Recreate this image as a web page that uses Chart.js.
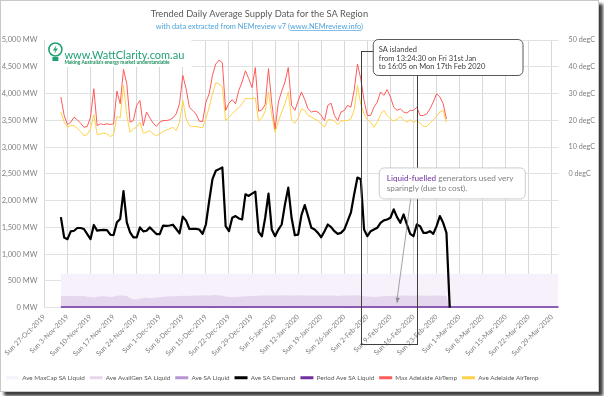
<!DOCTYPE html>
<html>
<head>
<meta charset="utf-8">
<script src="https://cdn.jsdelivr.net/npm/chart.js@4.4.1/dist/chart.umd.min.js"></script>
<style>
  html, body { margin: 0; padding: 0; background: #fff; }
  #frame {
    position: absolute; left: 0; top: 0;
    width: 597px; height: 390px;
    border: 1px solid #c9c9c9;
    box-shadow: 4px 4px 3px #3c3c3c;
    background: #fff;
  }
  canvas { display: block; }
</style>
</head>
<body>
<div id="frame"><canvas id="supplyChart" width="597" height="390"></canvas></div>
<script>
// x axis: one category per day, Sun 27-Oct-2019 .. Wed 1-Apr-2020
const startDate = new Date(2019, 9, 27);
const dayCount = 157;
const firstDataDay = 5; // data starts Fri 1-Nov-2019

const dayNames = ['Sun', 'Mon', 'Tue', 'Wed', 'Thu', 'Fri', 'Sat'];
const monthNames = ['Jan', 'Feb', 'Mar', 'Apr', 'May', 'Jun', 'Jul', 'Aug', 'Sep', 'Oct', 'Nov', 'Dec'];

const categories = Array.from({ length: dayCount }, (_, i) => {
  const d = new Date(startDate.getFullYear(), startDate.getMonth(), startDate.getDate() + i);
  return `${dayNames[d.getDay()]} ${d.getDate()}-${monthNames[d.getMonth()]}-${d.getFullYear()}`;
});

// daily values from 1-Nov-2019 (MW)
const demand = [
  1692, 1312, 1280, 1425, 1437, 1489, 1489, 1470, 1376, 1282,
  1545, 1440, 1450, 1452, 1448, 1363, 1357, 1594, 1658, 2177,
  1594, 1407, 1313, 1313, 1500, 1426, 1438, 1500, 1438, 1376,
  1376, 1532, 1530, 1535, 1550, 1470, 1388, 1702, 1626, 1470,
  1473, 1473, 1460, 1378, 1554, 1993, 2400, 2557, 2588, 2620,
  1523, 1429, 1680, 1711, 1667, 1648, 2118, 2087, 2131, 2168,
  1416, 1335, 1680, 2131, 1460, 1335, 1460, 1554, 1930, 2243,
  1680, 1354, 1366, 1730, 1918, 1711, 1492, 1460, 1398, 1316,
  1429, 1554, 1504, 1429, 1379, 1398, 1460, 1617, 1774, 2118,
  2431, 2400, 1460, 1335, 1429, 1460, 1492, 1586, 1630, 1648,
  1680, 1837, 1692, 1586, 1742, 1554, 1379, 1335, 1554, 1523,
  1398, 1398, 1429, 1379, 1523, 1711, 1586, 1398, 0,
];

const availGenLiquid = [
  215, 218, 220, 214, 212, 218, 222, 220, 205, 198,
  190, 205, 212, 215, 210, 198, 205, 225, 230, 228,
  220, 175, 160, 155, 165, 180, 185, 178, 182, 190,
  195, 205, 210, 215, 208, 212, 220, 225, 222, 218,
  225, 228, 230, 232, 228, 230, 232, 235, 230, 228,
  205, 200, 198, 200, 205, 210, 215, 212, 218, 220,
  225, 228, 226, 230, 232, 228, 226, 230, 232, 228,
  230, 226, 228, 232, 230, 226, 224, 228, 230, 226,
  224, 228, 226, 222, 220, 224, 226, 228, 230, 232,
  228, 226, 215, 210, 205, 200, 205, 210, 215, 218,
  220, 222, 225, 228, 226, 224, 222, 225, 228, 226,
  224, 222, 225, 228, 226, 224, 222, 220, 0,
];

const saLiquid = [
  6, 4, 3, 3, 4, 2, 3, 4, 5, 3,
  8, 4, 3, 2, 3, 4, 3, 9, 7, 14,
  10, 3, 3, 4, 5, 3, 4, 3, 2, 3,
  3, 4, 3, 5, 4, 3, 3, 12, 8, 5,
  4, 3, 3, 3, 7, 10, 14, 15, 13, 5,
  6, 7, 8, 10, 12, 11, 9, 13, 4, 3,
  6, 12, 5, 3, 5, 8, 12, 14, 7, 3,
  4, 8, 10, 6, 5, 4, 3, 3, 3, 5,
  5, 3, 3, 3, 4, 6, 8, 13, 15, 14,
  6, 3, 4, 5, 5, 6, 7, 8, 9, 11,
  7, 6, 8, 5, 3, 3, 5, 5, 4, 3,
  3, 5, 8, 6, 3, 3, 4, 3, 0,
];

// flat over the whole period, 1-Nov-2019 .. 1-Apr-2020
const maxCapLiquid = [632, 632];
const periodAveLiquid = [11, 11];

// daily air temperatures from 1-Nov-2019 (degC)
const maxAirTemp = [
  28.7, 21.8, 18.4, 19.3, 21.2, 20.2, 18.9, 17.4, 17.7, 21.2,
  31.8, 18.0, 18.7, 18.4, 18.7, 18.4, 18.7, 30.9, 26.2, 39.0,
  33.7, 19.3, 19.9, 25.6, 27.4, 18.0, 23.1, 20.9, 18.9, 17.7,
  19.3, 19.9, 19.9, 20.2, 20.9, 22.4, 26.2, 36.8, 31.8, 24.9,
  23.7, 22.4, 19.7, 19.5, 26.8, 29.9, 36.8, 41.0, 42.5, 41.5,
  23.7, 26.4, 27.7, 26.2, 31.2, 34.3, 38.5, 35.6, 32.2, 39.7,
  23.4, 23.9, 25.9, 39.3, 26.4, 16.8, 26.8, 30.9, 34.3, 39.7,
  25.6, 23.7, 27.2, 30.6, 27.7, 24.3, 23.1, 23.4, 23.1, 21.8,
  19.9, 25.6, 26.4, 21.8, 19.9, 23.1, 23.7, 25.6, 24.9, 31.2,
  41.0, 35.5, 27.4, 21.8, 21.8, 24.9, 26.8, 30.6, 29.3, 31.5,
  28.7, 24.9, 23.7, 24.3, 23.1, 22.7, 23.7, 23.7, 24.9, 21.8,
  21.8, 22.4, 24.3, 26.8, 29.9, 28.7, 26.2, 20.5,
];

const aveAirTemp = [
  23.1, 19.3, 17.4, 18.0, 18.0, 17.0, 15.8, 14.2, 14.7, 16.8,
  22.2, 14.7, 14.9, 15.2, 14.9, 13.9, 14.7, 21.4, 20.9, 33.1,
  21.8, 15.5, 16.8, 17.4, 19.3, 15.2, 15.5, 16.2, 14.9, 14.2,
  14.9, 15.8, 16.4, 16.8, 17.4, 16.2, 19.3, 27.4, 20.5, 18.0,
  17.7, 17.7, 17.4, 17.2, 20.5, 24.9, 29.9, 34.0, 33.5, 32.5,
  19.9, 21.2, 22.4, 23.7, 24.7, 26.2, 28.1, 28.1, 28.1, 28.4,
  19.7, 20.9, 23.4, 30.6, 21.8, 15.5, 19.7, 23.1, 26.2, 30.6,
  20.2, 18.9, 20.9, 24.3, 23.7, 21.8, 21.2, 20.5, 19.9, 18.7,
  17.4, 20.2, 20.2, 19.7, 18.4, 19.7, 19.9, 19.9, 20.5, 24.0,
  33.0, 26.0, 22.4, 20.2, 19.3, 17.4, 19.3, 22.2, 23.7, 21.8,
  20.5, 19.7, 20.5, 21.4, 20.2, 19.3, 20.2, 19.3, 19.9, 18.9,
  17.7, 17.7, 18.9, 20.2, 21.4, 23.1, 23.7, 19.3,
];

const islandFrom = 'Fri 31-Jan-2020';
const islandTo = 'Mon 17-Feb-2020';
const arrowDay = 'Tue 11-Feb-2020';

const alignToDays = values => categories.map((_, i) => {
  const v = values[i - firstDataDay];
  return v === undefined ? null : v;
});
const wholePeriod = [categories[firstDataDay], categories[dayCount - 1]];
const flatSeries = values => wholePeriod.map((x, i) => ({ x, y: values[i] }));

const fontFamily = 'Lato, "Open Sans", sans-serif';
Chart.defaults.font.family = fontFamily;
Chart.defaults.color = '#7f7f7f';

const overlays = {
  id: 'overlays',
  afterDatasetsDraw(chart) {
    const { ctx, chartArea, scales } = chart;
    const x1 = scales.x.getPixelForValue(categories.indexOf(islandFrom));
    const x2 = scales.x.getPixelForValue(categories.indexOf(islandTo));
    const top = scales.y.getPixelForValue(4790);
    const bottom = chartArea.bottom + 37;
    ctx.save();
    ctx.strokeStyle = '#3f3f3f';
    ctx.lineWidth = 1;
    ctx.strokeRect(Math.round(x1) + 0.5, Math.round(top) + 0.5, Math.round(x2 - x1), Math.round(bottom - top));
    ctx.restore();
  },
  afterDraw(chart) {
    const { ctx, chartArea, scales } = chart;
    const x1 = scales.x.getPixelForValue(categories.indexOf(islandFrom));

    // title
    ctx.save();
    const titleX = chartArea.left + 215;
    ctx.textAlign = 'center';
    ctx.textBaseline = 'alphabetic';
    ctx.fillStyle = '#595959';
    ctx.font = `9.3px ${fontFamily}`;
    ctx.fillText('Trended Daily Average Supply Data for the SA Region', titleX, 16);
    const sub = 'with data extracted from NEMreview v7 ';
    const link = '(www.NEMreview.info)';
    ctx.font = `7.4px ${fontFamily}`;
    ctx.fillStyle = '#4ea4dc';
    const wSub = ctx.measureText(sub).width;
    const wLink = ctx.measureText(link).width;
    const subLeft = titleX - (wSub + wLink) / 2;
    ctx.textAlign = 'left';
    ctx.fillText(sub + link, subLeft, 28);
    const wParen = ctx.measureText('(').width;
    ctx.strokeStyle = '#4ea4dc';
    ctx.lineWidth = 0.7;
    ctx.beginPath();
    ctx.moveTo(subLeft + wSub + wParen, 29.5);
    ctx.lineTo(subLeft + wSub + wLink - wParen, 29.5);
    ctx.stroke();
    ctx.restore();

    // logo
    ctx.save();
    const lx = chartArea.left + 1;
    const ly = chartArea.top;
    ctx.fillStyle = '#fff';
    ctx.fillRect(lx, ly, 146, 27);
    ctx.strokeStyle = '#22a273';
    ctx.fillStyle = '#22a273';
    ctx.lineWidth = 1.6;
    ctx.beginPath();
    ctx.arc(lx + 10, ly + 9.5, 6.5, 0, Math.PI * 2);
    ctx.stroke();
    ctx.fillRect(lx + 7, ly + 17, 6, 4);
    ctx.beginPath();
    ctx.moveTo(lx + 11, ly + 5);
    ctx.lineTo(lx + 7.5, ly + 10.5);
    ctx.lineTo(lx + 10, ly + 10.5);
    ctx.lineTo(lx + 9, ly + 14);
    ctx.lineTo(lx + 12.5, ly + 8.5);
    ctx.lineTo(lx + 10, ly + 8.5);
    ctx.closePath();
    ctx.fill();
    ctx.font = `11px ${fontFamily}`;
    ctx.textAlign = 'left';
    ctx.fillText('www.WattClarity.com.au', lx + 19, ly + 15);
    ctx.font = `bold 4.8px ${fontFamily}`;
    ctx.fillStyle = '#1d8f5f';
    ctx.fillText("Making Australia's energy market understandable", lx + 19, ly + 22);
    ctx.restore();

    // islanding note
    ctx.save();
    const bx = x1 + 12;
    const by = chartArea.top - 1;
    const bw = chartArea.right - 36 - bx;
    const bh = 36;
    ctx.beginPath();
    ctx.roundRect(bx + 0.5, by + 0.5, bw, bh, 5);
    ctx.fillStyle = '#fff';
    ctx.fill();
    ctx.strokeStyle = '#595959';
    ctx.lineWidth = 1;
    ctx.stroke();
    ctx.fillStyle = '#404040';
    ctx.font = `7.5px ${fontFamily}`;
    ctx.textAlign = 'left';
    ctx.fillText('SA islanded', bx + 6, by + 11);
    ctx.fillText('from 13:24:30 on Fri 31st Jan', bx + 6, by + 19.5);
    ctx.fillText('to 16:05 on Mon 17th Feb 2020', bx + 6, by + 28);
    ctx.restore();

    // liquid fuel note with arrow
    ctx.save();
    const nx = x1 + 18;
    const ny = scales.y.getPixelForValue(2620);
    const nw = 146;
    const nh = 31;
    const ax = scales.x.getPixelForValue(categories.indexOf(arrowDay));
    const ay = scales.y.getPixelForValue(80);
    const sx = nx + 32;
    const sy = ny + nh;
    ctx.strokeStyle = '#8c8c8c';
    ctx.fillStyle = '#8c8c8c';
    ctx.lineWidth = 0.8;
    ctx.beginPath();
    ctx.moveTo(sx, sy);
    ctx.lineTo(ax, ay - 4);
    ctx.stroke();
    const ang = Math.atan2(ay - sy, ax - sx);
    ctx.beginPath();
    ctx.moveTo(ax, ay);
    ctx.lineTo(ax - 6 * Math.cos(ang - 0.35), ay - 6 * Math.sin(ang - 0.35));
    ctx.lineTo(ax - 6 * Math.cos(ang + 0.35), ay - 6 * Math.sin(ang + 0.35));
    ctx.closePath();
    ctx.fill();
    ctx.beginPath();
    ctx.roundRect(nx + 0.5, ny + 0.5, nw, nh, 5);
    ctx.fillStyle = '#fff';
    ctx.fill();
    ctx.strokeStyle = '#bfbfbf';
    ctx.stroke();
    ctx.font = `8.2px ${fontFamily}`;
    ctx.textAlign = 'left';
    const hl = 'Liquid-fuelled';
    ctx.fillStyle = '#7030a0';
    ctx.fillText(hl, nx + 8, ny + 11);
    ctx.fillStyle = '#7f7f7f';
    ctx.fillText(' generators used very', nx + 8 + ctx.measureText(hl).width, ny + 11);
    ctx.fillText('sparingly (due to cost).', nx + 8, ny + 21);
    ctx.restore();
  },
};

const areaLine = 'rgba(0,0,0,0)';

new Chart(document.getElementById('supplyChart'), {
  type: 'line',
  data: {
    labels: categories,
    datasets: [
      {
        label: 'Ave MaxCap SA Liquid',
        data: flatSeries(maxCapLiquid),
        backgroundColor: '#f6f1fa',
        borderColor: areaLine,
        fill: 'origin',
        order: 7,
      },
      {
        label: 'Ave AvailGen SA Liquid',
        data: alignToDays(availGenLiquid),
        backgroundColor: '#e4d7ee',
        borderColor: areaLine,
        fill: 'origin',
        order: 6,
      },
      {
        label: 'Ave SA Liquid',
        data: alignToDays(saLiquid),
        backgroundColor: '#b795d3',
        borderColor: areaLine,
        fill: 'origin',
        order: 5,
      },
      {
        label: 'Ave SA Demand',
        data: alignToDays(demand),
        borderColor: '#000',
        backgroundColor: '#000',
        borderWidth: 2.2,
        order: 1,
      },
      {
        label: 'Period Ave SA Liquid',
        data: flatSeries(periodAveLiquid),
        borderColor: '#7030a0',
        backgroundColor: '#7030a0',
        borderWidth: 1.6,
        order: 2,
      },
      {
        label: 'Max Adelaide AirTemp',
        data: alignToDays(maxAirTemp),
        borderColor: '#ff5a5a',
        backgroundColor: '#ff5a5a',
        borderWidth: 1,
        yAxisID: 'y1',
        order: 3,
      },
      {
        label: 'Ave Adelaide AirTemp',
        data: alignToDays(aveAirTemp),
        borderColor: '#ffd24a',
        backgroundColor: '#ffd24a',
        borderWidth: 1,
        yAxisID: 'y1',
        order: 4,
      },
    ],
  },
  options: {
    responsive: false,
    animation: false,
    devicePixelRatio: 1,
    elements: {
      point: { radius: 0 },
      line: { tension: 0, borderJoinStyle: 'round' },
    },
    layout: { padding: { top: 39, left: 0, right: 0, bottom: 0 } },
    scales: {
      x: {
        type: 'category',
        offset: false,
        grid: { color: '#d9d9d9', drawTicks: false },
        border: { display: false },
        ticks: {
          autoSkip: false,
          maxRotation: 45,
          minRotation: 45,
          padding: 5,
          font: { size: 7 },
          color: '#7f7f7f',
          callback: (value, index) => (index % 7 === 0 ? categories[index] : null),
        },
        afterFit(scale) { scale.height = 62; },
      },
      y: {
        position: 'left',
        min: 0,
        max: 5000,
        grid: { color: '#e2e2e2', drawTicks: false },
        border: { display: false },
        ticks: {
          stepSize: 500,
          padding: 7,
          font: { size: 7.5 },
          color: '#7f7f7f',
          callback: value => `${value.toLocaleString('en-US')} MW`,
        },
        afterFit(scale) { scale.width = 42.6; },
      },
      y1: {
        position: 'right',
        min: -50,
        max: 50,
        grid: { display: false, drawTicks: false },
        border: { display: false },
        ticks: {
          stepSize: 10,
          padding: 10,
          font: { size: 7.2 },
          color: '#7f7f7f',
          callback: value => (value >= 0 ? `${value} degC` : null),
        },
        afterFit(scale) { scale.width = 39.5; },
      },
    },
    plugins: {
      title: { display: false },
      tooltip: { enabled: false },
      legend: {
        position: 'bottom',
        align: 'start',
        labels: {
          boxWidth: 13,
          boxHeight: 3,
          padding: 5,
          color: '#595959',
          font: { size: 6.3 },
          sort: (a, b) => a.datasetIndex - b.datasetIndex,
          generateLabels(chart) {
            return Chart.defaults.plugins.legend.labels.generateLabels(chart).map(item => {
              const ds = chart.data.datasets[item.datasetIndex];
              return {
                ...item,
                fillStyle: ds.fill ? ds.backgroundColor : ds.borderColor,
                strokeStyle: ds.borderColor,
                lineWidth: 0,
              };
            });
          },
        },
      },
    },
  },
  plugins: [overlays],
});
</script>
</body>
</html>
